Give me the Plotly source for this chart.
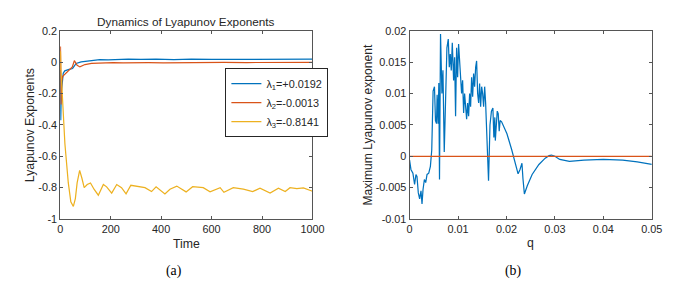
import plotly.graph_objects as go

# ---------------- Panel (a) data ----------------
t_l1 = [0, 2, 4, 8, 12, 18, 25, 35, 49, 63, 83, 100, 123, 157, 190, 230, 270, 320, 380, 450, 520, 600, 680, 760, 840, 920, 1000]
v_l1 = [-0.05, -0.37, -0.2, -0.12, -0.07, -0.055, -0.05, -0.046, -0.04, -0.008, 0.002, 0.005, 0.01, 0.017, 0.015, 0.018, 0.02, 0.018, 0.02, 0.017, 0.02, 0.018, 0.019, 0.018, 0.019, 0.019, 0.019]

t_l2 = [0, 1, 3, 6, 10, 20, 32, 48, 56, 67, 78, 98, 124, 170, 210, 250, 303, 350, 409, 480, 560, 650, 740, 830, 920, 1000]
v_l2 = [0.0, 0.1, -0.27, -0.12, -0.09, -0.075, -0.06, -0.03, 0.01, -0.02, -0.03, -0.015, -0.008, -0.004, -0.002, -0.004, -0.006, -0.003, -0.004, -0.002, -0.003, -0.001, -0.002, -0.001, -0.002, -0.001]

t_l3 = [0, 1, 3, 9, 18.5, 32, 42, 52, 60, 67, 77, 86, 95, 107, 120, 134, 151, 171, 184, 204, 224, 243, 261, 280, 303, 336, 362, 380, 415, 435, 462, 499, 525, 567, 594, 634, 649, 686, 726, 763, 792, 832, 865, 892, 911, 938, 964, 1000]
v_l3 = [0.05, 0.07, -0.05, -0.27, -0.52, -0.77, -0.89, -0.92, -0.87, -0.77, -0.69, -0.74, -0.80, -0.78, -0.77, -0.81, -0.848, -0.78, -0.795, -0.835, -0.78, -0.80, -0.84, -0.785, -0.79, -0.80, -0.825, -0.795, -0.84, -0.81, -0.79, -0.827, -0.794, -0.80, -0.827, -0.80, -0.83, -0.80, -0.81, -0.825, -0.803, -0.835, -0.803, -0.825, -0.80, -0.806, -0.802, -0.823]

legend_names = ["λ<sub>1</sub>=+0.0192", "λ<sub>2</sub>=-0.0013", "λ<sub>3</sub>=-0.8141"]

# ---------------- Panel (b) data ----------------
q_vals = [0, 0.00028, 0.00069, 0.00104, 0.00132, 0.00153, 0.0018, 0.00208, 0.00236, 0.00257, 0.00278, 0.00306, 0.00333, 0.00361, 0.00396, 0.0043, 0.00458, 0.00486, 0.00514, 0.00535, 0.00556, 0.00569, 0.0059, 0.00604, 0.00618, 0.00639,
          0.00668, 0.00689, 0.00716, 0.00744, 0.00771, 0.00799, 0.0082, 0.0084, 0.00861, 0.00882, 0.00909, 0.0093, 0.0095, 0.00971, 0.00992, 0.01012, 0.01033, 0.01054, 0.01074, 0.01095, 0.01116, 0.01136, 0.01157, 0.01178, 0.01198, 0.01219, 0.0124, 0.0126, 0.01281, 0.01302, 0.01322, 0.01343, 0.01364, 0.01384, 0.01405, 0.01426, 0.01446, 0.01467, 0.01488, 0.01508, 0.01529, 0.0155, 0.0157, 0.01584,
          0.0163, 0.0166, 0.0169, 0.0172, 0.0174, 0.0176, 0.0177, 0.0181, 0.0183, 0.0185, 0.0187, 0.019, 0.0201, 0.0211, 0.0218, 0.0224, 0.0228, 0.0232, 0.0234, 0.0237, 0.0243, 0.0253, 0.0267, 0.028, 0.0288, 0.0293, 0.0300, 0.031, 0.033, 0.036, 0.04, 0.044, 0.047, 0.05]
mle_vals = [-0.0006, -0.0021, -0.0027, -0.0045, -0.0029, -0.0032, -0.0058, -0.0068, -0.0055, -0.0076, -0.0053, -0.0037, -0.0042, -0.0029, -0.0027, -0.0016, 0.001, 0.0104, 0.0111, 0.0057, 0.0052, 0.0098, 0.0052, 0.0117, -0.0037, 0.0195,
            0.0100, 0.0137, 0.0007, 0.0100, 0.0173, 0.0187, 0.0142, 0.0163, 0.0137, 0.0181, 0.0121, 0.0158, 0.0064, 0.0173, 0.0126, 0.0179, 0.0152, 0.0137, 0.0100, 0.0121, 0.0069, 0.0100, 0.0085, 0.0059, 0.0085, 0.0064, 0.0100, 0.0079, 0.0126, 0.0095, 0.0132, 0.0111, 0.0142, 0.0152, 0.0100, 0.0085, 0.0116, 0.0079, 0.0111, 0.0100, 0.0079, 0.0111, 0.0085, 0.0048,
            -0.0039, 0.005, 0.0072, 0.0077, 0.003, 0.0062, 0.0025, 0.0072, 0.0068, 0.004, 0.0057, 0.0055, 0.0036, 0.001, -0.0011, -0.0028, -0.0021, -0.0011, -0.0035, -0.006, -0.0047, -0.0029, -0.0013, -0.0003, 0.0001, 0.0002, 0.0, -0.0005, -0.0008, -0.0006, -0.0005, -0.0006, -0.0009, -0.0013]
zero_q = [0, 0.05]
zero_v = [0, 0]

# tick labels
a_xticks = [0, 200, 400, 600, 800, 1000]
a_yticks = [0.2, 0, -0.2, -0.4, -0.6, -0.8, -1]
a_yticktext = ["0.2", "0", "-0.2", "-0.4", "-0.6", "-0.8", "-1"]
b_xticks = [0, 0.01, 0.02, 0.03, 0.04, 0.05]
b_xticktext = ["0", "0.01", "0.02", "0.03", "0.04", "0.05"]
b_yticks = [0.02, 0.015, 0.01, 0.005, 0, -0.005, -0.01]
b_yticktext = ["0.02", "0.015", "0.01", "0.005", "0", "-0.005", "-0.01"]

BLUE, RED, YELLOW = "#0072BD", "#D95319", "#EDB120"
AX = "#262626"
FONT = "Liberation Sans, Arial, Helvetica, sans-serif"

# The photographed page is scaled by S and offset by the default 8px body margin
S = 678 / 694
OFF = 8
W, H = 678, 282
def px(x): return (x / S - OFF) / W
def py(y): return 1 - (y / S - OFF) / H
def fs(v): return round(v / S, 2)

LW = fs(1.2)

fig = go.Figure()
fig.add_trace(go.Scatter(x=t_l1, y=v_l1, mode="lines", line=dict(color=BLUE, width=LW), name=legend_names[0], xaxis="x", yaxis="y"))
fig.add_trace(go.Scatter(x=t_l2, y=v_l2, mode="lines", line=dict(color=RED, width=LW), name=legend_names[1], xaxis="x", yaxis="y"))
fig.add_trace(go.Scatter(x=t_l3, y=v_l3, mode="lines", line=dict(color=YELLOW, width=LW), name=legend_names[2], xaxis="x", yaxis="y"))
fig.add_trace(go.Scatter(x=q_vals, y=mle_vals, mode="lines", line=dict(color=BLUE, width=LW), showlegend=False, xaxis="x2", yaxis="y2"))
fig.add_trace(go.Scatter(x=zero_q, y=zero_v, mode="lines", line=dict(color=RED, width=LW), showlegend=False, xaxis="x2", yaxis="y2"))

axis_common = dict(showline=True, linecolor="#555555", linewidth=1, mirror="ticks", ticks="inside", ticklen=3,
                   tickcolor="#555555", showgrid=False, zeroline=False, tickfont=dict(family=FONT, size=fs(10.6), color=AX))

fig.update_layout(
    width=W, height=H, margin=dict(l=0, r=0, t=0, b=0),
    paper_bgcolor="white", plot_bgcolor="white",
    xaxis=dict(domain=[px(57), px(309)], range=[0, 1000], tickvals=a_xticks, anchor="y", **axis_common),
    yaxis=dict(domain=[py(217), py(25)], range=[-1, 0.2], tickvals=a_yticks, ticktext=a_yticktext, anchor="x", **axis_common),
    xaxis2=dict(domain=[px(406), px(648)], range=[0, 0.05], tickvals=b_xticks, ticktext=b_xticktext, anchor="y2", **axis_common),
    yaxis2=dict(domain=[py(217), py(25)], range=[-0.01, 0.02], tickvals=b_yticks, ticktext=b_yticktext, anchor="x2", **axis_common),
    legend=dict(x=px(222), y=py(63), xanchor="left", yanchor="top", bgcolor="white", bordercolor=AX, borderwidth=1,
                font=dict(family=FONT, size=fs(10.6), color=AX), tracegroupgap=0, itemwidth=30),
    showlegend=True,
)

ann = [
    dict(text="Dynamics of Lyapunov Exponents", x=px(183), y=py(15), font=dict(size=fs(11.5))),
    dict(text="Time", x=px(183), y=py(243), font=dict(size=fs(12))),
    dict(text="Lyapunov Exponents", x=px(27), y=py(121), font=dict(size=fs(12)), textangle=-90),
    dict(text="q", x=px(527), y=py(241), font=dict(size=fs(12))),
    dict(text="Maximum Lyapunov exponent", x=px(364), y=py(121), font=dict(size=fs(11.8)), textangle=-90),
]
for a in ann:
    f = dict(family=FONT, color=AX)
    f.update(a.pop("font"))
    fig.add_annotation(xref="paper", yref="paper", showarrow=False, xanchor="center", yanchor="middle", font=f, **a)

for txt, xc in [("(a)", 170), ("(b)", 509)]:
    fig.add_annotation(text=txt, xref="paper", yref="paper", x=px(xc), y=py(270), showarrow=False,
                       xanchor="center", yanchor="middle", font=dict(family="Liberation Serif, Times New Roman, serif", size=fs(13.5), color="black"))

fig.write_html("out.html", config={"displayModeBar": False})
